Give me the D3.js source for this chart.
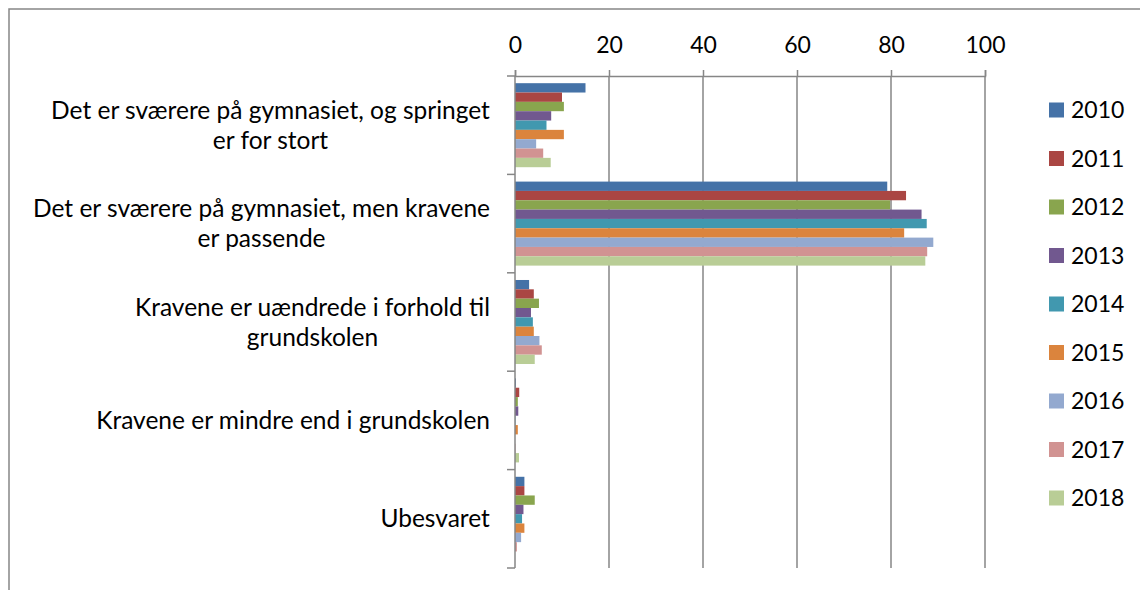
<!DOCTYPE html>
<html>
<head>
<meta charset="utf-8">
<script src="https://cdn.jsdelivr.net/npm/d3@7"></script>
<style>
  body { margin: 0; background: #fff; }
  text { font-family: "Lato", "Open Sans", sans-serif; fill: #000; }
</style>
</head>
<body>
<div class="chart"></div>
<script>
// categories (top to bottom), line breaks as in the original
var categories = [
  "Det er sværere på gymnasiet, og springet\ner for stort",
  "Det er sværere på gymnasiet, men kravene\ner passende",
  "Kravene er uændrede i forhold til\ngrundskolen",
  "Kravene er mindre end i grundskolen",
  "Ubesvaret"
];

var years = ["2010", "2011", "2012", "2013", "2014", "2015", "2016", "2017", "2018"];

// one array per year, values in category order
var v2010 = [15.0, 79.2, 3.0, 0.2, 2.0];
var v2011 = [10.0, 83.2, 4.0, 0.9, 2.0];
var v2012 = [10.4, 79.8, 5.1, 0.6, 4.2];
var v2013 = [7.7, 86.5, 3.4, 0.7, 1.8];
var v2014 = [6.7, 87.6, 3.8, 0.1, 1.5];
var v2015 = [10.4, 82.8, 4.0, 0.6, 2.0];
var v2016 = [4.5, 89.0, 5.2, 0.0, 1.3];
var v2017 = [6.0, 87.7, 5.7, 0.1, 0.4];
var v2018 = [7.6, 87.3, 4.2, 0.85, 0.0];

var xTicks = [0, 20, 40, 60, 80, 100];

var colors = ["#4572A7", "#AA4643", "#89A54E", "#71588F", "#4198AF",
  "#DB843D", "#93A9CF", "#D19392", "#B9CD96"];

var seriesValues = [v2010, v2011, v2012, v2013, v2014, v2015, v2016, v2017, v2018];

var svgWidth = 1140;
var svgHeight = 590;

var margin = { top: 76, right: 155, bottom: 22, left: 515 };
var width = svgWidth - margin.left - margin.right;
var height = svgHeight - margin.top - margin.bottom;

var axisColor = "#868686";

var svg = d3.select(".chart")
  .append("svg")
  .attr("width", svgWidth)
  .attr("height", svgHeight);

// outer chart border (runs off the right and bottom edges)
svg.append("rect")
  .attr("x", 9)
  .attr("y", 9)
  .attr("width", 1200)
  .attr("height", 700)
  .attr("fill", "none")
  .attr("stroke", axisColor)
  .attr("stroke-width", 1.5);

var chartGroup = svg.append("g")
  .attr("transform", `translate(${margin.left}, ${margin.top})`);

// scales
var xScale = d3.scaleLinear()
  .domain([0, 100])
  .range([0, width]);

var yScale = d3.scaleBand()
  .domain(categories)
  .range([0, height])
  .padding(0);

var ySeries = d3.scaleBand()
  .domain(years)
  .range([0, yScale.bandwidth()])
  .paddingInner(0)
  .paddingOuter(0.77);

// gridlines
chartGroup.append("g")
  .selectAll("line")
  .data(xTicks.slice(1))
  .enter()
  .append("line")
  .attr("x1", d => xScale(d))
  .attr("x2", d => xScale(d))
  .attr("y1", 0)
  .attr("y2", height)
  .attr("stroke", axisColor)
  .attr("stroke-width", 1.5);

// bars, one group per year
var barGroups = chartGroup.selectAll(".series")
  .data(years)
  .enter()
  .append("g")
  .attr("class", "series")
  .attr("fill", (d, i) => colors[i]);

barGroups.selectAll("rect")
  .data((d, i) => seriesValues[i].map((v, j) => ({ year: d, cat: categories[j], value: v })))
  .enter()
  .append("rect")
  .attr("x", xScale(0))
  .attr("y", d => yScale(d.cat) + ySeries(d.year))
  .attr("width", d => xScale(d.value) - xScale(0))
  .attr("height", ySeries.bandwidth());

// x axis on top
var topAxis = d3.axisTop(xScale)
  .tickValues(xTicks)
  .tickSize(6)
  .tickPadding(17);

var xAxis = chartGroup.append("g")
  .call(topAxis);

xAxis.selectAll("path, line")
  .attr("stroke", axisColor)
  .attr("stroke-width", 1.5);

xAxis.selectAll("text")
  .attr("font-size", 23)
  .attr("font-family", "Lato")
  .attr("dy", 0);

// y axis line with ticks at category boundaries
chartGroup.append("line")
  .attr("x1", 0)
  .attr("x2", 0)
  .attr("y1", 0)
  .attr("y2", height)
  .attr("stroke", axisColor)
  .attr("stroke-width", 1.5);

var boundaries = categories.map(c => yScale(c)).concat([height]);

chartGroup.append("g")
  .selectAll("line")
  .data(boundaries)
  .enter()
  .append("line")
  .attr("x1", -8)
  .attr("x2", 0)
  .attr("y1", d => d)
  .attr("y2", d => d)
  .attr("stroke", axisColor)
  .attr("stroke-width", 1.5);

// category labels, lines centred on each other, block right aligned
var lineHeight = 30;
categories.forEach(function(c) {
  var lines = c.split("\n");
  var cy = yScale(c) + yScale.bandwidth() / 2;
  var label = chartGroup.append("text")
    .attr("font-size", 24.5)
    .attr("text-anchor", "middle");
  lines.forEach(function(l, k) {
    label.append("tspan")
      .attr("x", 0)
      .attr("y", cy + (k - (lines.length - 1) / 2) * lineHeight)
      .attr("dy", "0.35em")
      .text(l);
  });
  // shift so the widest line ends 25px left of the axis
  var w = label.node().getBBox().width;
  label.selectAll("tspan").attr("x", -25 - w / 2);
});

// legend
var legend = svg.append("g")
  .attr("transform", "translate(1049, 110)");

var legendItems = legend.selectAll("g")
  .data(years)
  .enter()
  .append("g")
  .attr("transform", (d, i) => `translate(0, ${i * 48.5})`);

legendItems.append("rect")
  .attr("x", 0)
  .attr("y", -7.5)
  .attr("width", 15)
  .attr("height", 15)
  .attr("fill", (d, i) => colors[i]);

legendItems.append("text")
  .attr("x", 22)
  .attr("y", 0)
  .attr("dy", "0.35em")
  .attr("font-size", 23)
  .text(d => d);
</script>
</body>
</html>
